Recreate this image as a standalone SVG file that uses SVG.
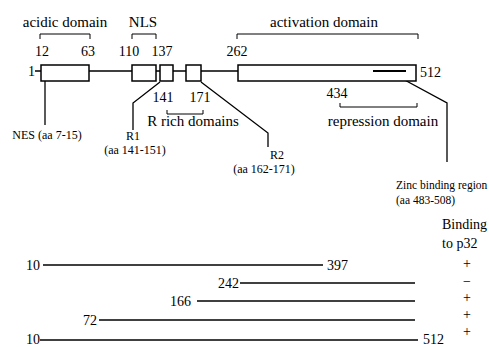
<svg xmlns="http://www.w3.org/2000/svg" width="489" height="347" viewBox="0 0 489 347" font-family="Liberation Serif, DejaVu Serif, Times New Roman, serif">
<style>
text{font-family:'Liberation Serif','DejaVu Serif',serif;fill:#000}
.l{font-size:14px}
.w{font-size:15px}
.s{font-size:12px}
.z{font-size:11.5px}
.m{text-anchor:middle}
.box{fill:#fff;stroke:#000;stroke-width:1.5}
.ln{fill:none;stroke:#000;stroke-width:1.3}
.br{fill:none;stroke:#000;stroke-width:1}
.row{stroke:#000;stroke-width:1.5}
</style>
<rect width="489" height="347" fill="#fff"/>
<g id="connectors">
<path class="ln" d="M35,71H41M89,71H132M156,71H160M173,71H186M201,71H238"/>
<path class="ln" d="M45,71V125"/>
<path class="ln" d="M160,82L133,103V130"/>
<path class="ln" d="M201,82L268,133V147"/>
<path class="ln" d="M388,71L447,103V162"/>
</g>
<g id="protein">
<text class="l" x="28" y="76">1</text>
<rect id="acidic" class="box" x="41" y="65" width="48" height="16"/>
<rect id="nls" class="box" x="132" y="65" width="24" height="16"/>
<rect id="r1" class="box" x="160" y="65" width="13" height="16"/>
<rect id="r2" class="box" x="186" y="65" width="15" height="16"/>
<rect id="activation" class="box" x="238" y="65" width="178" height="16"/>
<path d="M373,71H406" stroke="#000" stroke-width="1.8"/>
<text class="l" x="420" y="77">512</text>
</g>
<g id="acidic-domain">
<text class="w m" x="65" y="27">acidic domain</text>
<path class="br" d="M40,39V34H90V39"/>
<text class="l m" x="42" y="56">12</text>
<text class="l m" x="88" y="56">63</text>
</g>
<g id="nls-label">
<text class="w m" x="143" y="27">NLS</text>
<path class="br" d="M132,39V34H156V39"/>
<text class="l m" x="129" y="56">110</text>
<text class="l m" x="162" y="56">137</text>
</g>
<g id="activation-domain">
<text class="w m" x="324" y="27">activation domain</text>
<path class="br" d="M237,39V34H418V39"/>
<text class="l m" x="237" y="56">262</text>
</g>
<g id="repression-domain">
<text class="l m" x="337" y="98">434</text>
<path class="br" d="M340,103V107H417V103"/>
<text class="w m" x="383" y="126">repression domain</text>
</g>
<g id="r-rich">
<text class="l m" x="163" y="102">141</text>
<text class="l m" x="200" y="102">171</text>
<path class="br" d="M167,110V114H203V110"/>
<text class="w m" x="193" y="126">R rich domains</text>
</g>
<g id="nes">
<text class="s m" x="47" y="139">NES (aa 7-15)</text>
</g>
<g id="r1-label">
<text class="s m" x="133" y="140">R1</text>
<text class="s m" x="135" y="154">(aa 141-151)</text>
</g>
<g id="r2-label">
<text class="s m" x="277" y="159">R2</text>
<text class="s m" x="264" y="173">(aa 162-171)</text>
</g>
<g id="zinc">
<text class="z" x="396" y="189">Zinc binding region</text>
<text class="z" x="396" y="204">(aa 483-508)</text>
</g>
<g id="binding-header">
<text class="l" x="442" y="229">Binding</text>
<text class="l" x="442" y="248">to p32</text>
</g>
<g id="fragments">
<g id="f1">
<text class="l" x="26" y="270">10</text>
<line class="row" x1="43" y1="265" x2="323" y2="265"/>
<text class="l" x="327" y="270">397</text>
<text class="l m" x="467" y="268">+</text>
</g>
<g id="f2">
<text class="l" x="218" y="288">242</text>
<line class="row" x1="240" y1="283" x2="415" y2="283"/>
<text class="l m" x="467" y="286">−</text>
</g>
<g id="f3">
<text class="l" x="170" y="306">166</text>
<line class="row" x1="197" y1="301" x2="415" y2="301"/>
<text class="l m" x="467" y="302">+</text>
</g>
<g id="f4">
<text class="l" x="83" y="325">72</text>
<line class="row" x1="99" y1="320" x2="415" y2="320"/>
<text class="l m" x="467" y="319">+</text>
</g>
<g id="f5">
<text class="l" x="26" y="344">10</text>
<line class="row" x1="40" y1="340" x2="418" y2="340"/>
<text class="l" x="423" y="344">512</text>
<text class="l m" x="467" y="336">+</text>
</g>
</g>
</svg>
